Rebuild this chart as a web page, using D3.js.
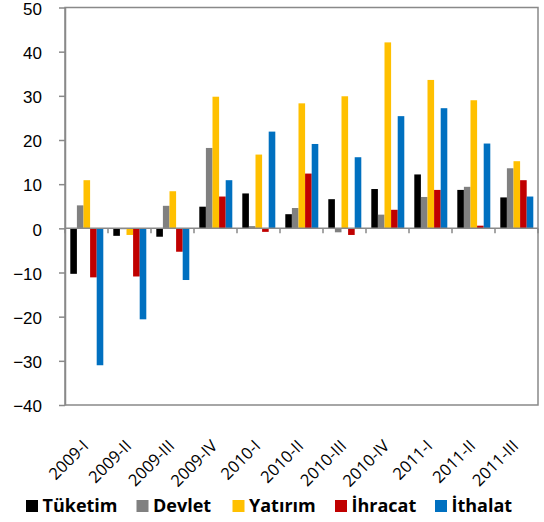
<!DOCTYPE html>
<html>
<head>
<meta charset="utf-8">
<script src="https://cdn.jsdelivr.net/npm/d3@7"></script>
<style>
  body { margin: 0; background: #fff; }
  svg { display: block; font-family: "Open Sans", "Noto Sans", sans-serif; }
</style>
</head>
<body>
<div id="chart"></div>
<script>
const categories = ['2009-I', '2009-II', '2009-III', '2009-IV', '2010-I', '2010-II',
                    '2010-III', '2010-IV', '2011-I', '2011-II', '2011-III'];
const seriesNames = ['Tüketim', 'Devlet', 'Yatırım', 'İhracat', 'İthalat'];
const colors = ['#000000', '#808080', '#FFC000', '#C00000', '#0070C0'];

const tuketim = [-10.3, -1.7, -1.9, 4.9, 7.9, 3.2, 6.6, 8.9, 12.2, 8.7, 7.0];
const devlet  = [5.2, -0.2, 5.1, 18.2, 0.5, 4.6, -0.9, 3.1, 7.1, 9.4, 13.6];
const yatirim = [10.9, -1.5, 8.4, 29.8, 16.7, 28.3, 29.9, 42.1, 33.6, 29.0, 15.2];
const ihracat = [-11.1, -10.9, -5.3, 7.2, -0.8, 12.4, -1.5, 4.2, 8.7, 0.6, 10.9];
const ithalat = [-31.0, -20.6, -11.7, 10.9, 21.9, 19.1, 16.1, 25.4, 27.2, 19.2, 7.2];

const yTicks = [-40, -30, -20, -10, 0, 10, 20, 30, 40, 50];

const seriesValues = [tuketim, devlet, yatirim, ihracat, ithalat];

const W = 544, H = 522;
const margin = {top: 7.5, right: 6, bottom: 117, left: 65};
const width = W - margin.left - margin.right;
const height = H - margin.top - margin.bottom;

const svg = d3.select('#chart').append('svg')
  .attr('width', W)
  .attr('height', H);

const g = svg.append('g')
  .attr('transform', `translate(${margin.left},${margin.top})`);

const x = d3.scaleBand().domain(categories).range([0, width]).padding(0);
const step = x.bandwidth();
const x1 = d3.scaleBand().domain(seriesNames).range([5.3, step - 4.7]).padding(0);
const y = d3.scaleLinear().domain([-40, 50]).range([height, 0]);

// Barras
seriesNames.forEach((name, si) => {
  g.selectAll('.bar-' + si)
    .data(categories)
    .enter()
    .append('rect')
      .attr('class', 'bar-' + si)
      .attr('x', d => x(d) + x1(name))
      .attr('width', x1.bandwidth())
      .attr('y', (d, i) => y(Math.max(0, seriesValues[si][i])))
      .attr('height', (d, i) => Math.abs(y(seriesValues[si][i]) - y(0)))
      .attr('fill', colors[si]);
});

const axisColor = '#898989';

// Marco del área de trazado
g.append('rect')
  .attr('x', 0).attr('y', 0)
  .attr('width', width).attr('height', height)
  .attr('fill', 'none')
  .attr('stroke', axisColor)
  .attr('stroke-width', 1.5);

// Eje Y
const yAxis = g.append('g')
  .call(d3.axisLeft(y).tickValues(yTicks).tickSize(6).tickSizeOuter(0).tickPadding(17));
yAxis.select('.domain').attr('stroke', axisColor).attr('stroke-width', 1.5);
yAxis.selectAll('.tick line').attr('stroke', axisColor).attr('stroke-width', 1.5);
yAxis.selectAll('.tick text')
  .attr('fill', '#000')
  .attr('dy', '0.4em')
  .style('font-size', '17px');

// Eje X en cero con marcas entre categorías
const zeroY = y(0);
g.append('line')
  .attr('x1', 0).attr('x2', width)
  .attr('y1', zeroY).attr('y2', zeroY)
  .attr('stroke', axisColor).attr('stroke-width', 1.5);

g.selectAll('.xtick')
  .data(d3.range(categories.length + 1))
  .enter()
  .append('line')
    .attr('class', 'xtick')
    .attr('x1', i => i * step).attr('x2', i => i * step)
    .attr('y1', zeroY).attr('y2', zeroY + 5)
    .attr('stroke', axisColor).attr('stroke-width', 1.5);

// Etiquetas de categorías giradas
g.selectAll('.xlabel')
  .data(categories)
  .enter()
  .append('text')
    .attr('class', 'xlabel')
    .attr('transform', d => `translate(${x(d) + step / 2 + 3},${height + 42}) rotate(-45)`)
    .attr('text-anchor', 'end')
    .style('font-size', '16.5px')
    .attr('fill', '#000')
    .text(d => d);

// Leyenda
const legendX = [26, 136.5, 232.5, 335, 435];
const legend = svg.append('g').attr('class', 'legend');
seriesNames.forEach((name, i) => {
  legend.append('rect')
    .attr('x', legendX[i]).attr('y', 500)
    .attr('width', 12).attr('height', 12)
    .attr('fill', colors[i]);
  legend.append('text')
    .attr('x', legendX[i] + 16.5).attr('y', 512)
    .style('font-size', '18px')
    .style('font-weight', 'bold')
    .attr('fill', '#000')
    .text(name);
});
</script>
</body>
</html>
